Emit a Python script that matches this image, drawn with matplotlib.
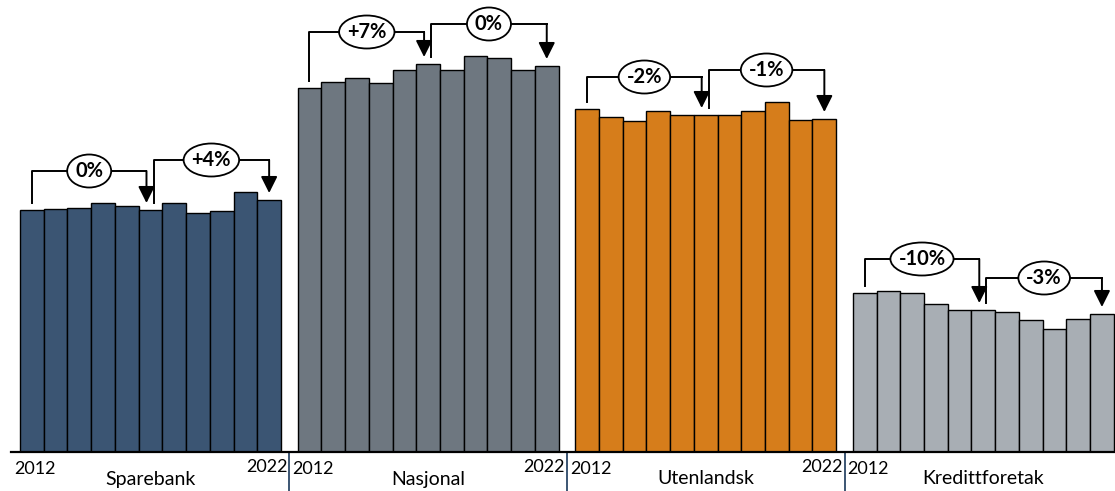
import matplotlib
matplotlib.use("Agg")
import matplotlib.pyplot as plt
from matplotlib.patches import Ellipse

plt.rcParams['font.family'] = ['Lato', 'DejaVu Sans']

years = list(range(2012, 2023))
groups = ["Sparebank", "Nasjonal", "Utenlandsk", "Kredittforetak"]

sparebank = [242, 243, 244, 249, 246, 242, 249, 239, 241, 260, 252]
nasjonal = [364, 370, 374, 369, 382, 388, 382, 396, 394, 382, 386]
utenlandsk = [343, 335, 331, 341, 337, 337, 337, 341, 350, 332, 333]
kredittforetak = [159, 161, 159, 148, 142, 142, 140, 132, 123, 133, 138]

change_first = ["0%", "+7%", "-2%", "-10%"]    # 2012 -> 2017
change_second = ["+4%", "0%", "-1%", "-3%"]    # 2017 -> 2022

series = [sparebank, nasjonal, utenlandsk, kredittforetak]
colors = ["#3b5573", "#6e7780", "#d67d1b", "#a8aeb4"]

fig = plt.figure(figsize=(11.15, 4.91), dpi=100)
ax = fig.add_axes([11 / 1115, 39 / 491, 1 - 11 / 1115, 1 - 39 / 491])

period = 11.7
n = len(years)
for g, vals in enumerate(series):
    xs = [g * period + i for i in range(n)]
    ax.bar(xs, vals, width=1.0, color=colors[g], edgecolor="black", linewidth=1.0)

ax.set_xlim(-0.88, 3 * period + 10.5 + 0.05)
ax.set_ylim(0, 452)
for s in ["top", "right", "left"]:
    ax.spines[s].set_visible(False)
ax.spines["bottom"].set_linewidth(1.6)
ax.set_xticks([])
ax.set_yticks([])

gap = 7
rise = 32
lw = 1.4

# pixel -> data conversion (axes spans full width/height in pixels)
px_x = (ax.get_xlim()[1] - ax.get_xlim()[0]) / (1115 * (1 - 11 / 1115))
px_y = 1.0

fig.canvas.draw()
renderer = fig.canvas.get_renderer()

arrow_kw = dict(arrowstyle="-|>,head_length=1.0,head_width=0.5",
                mutation_scale=10, lw=lw, color="black", shrinkA=0, shrinkB=0)


def bracket(xa, xb, ya, yb, top, label):
    level = top + rise
    ax.plot([xa, xa, xb], [ya + gap, level, level], color="black", lw=lw, zorder=3)
    ax.annotate("", xy=(xb, yb + gap), xytext=(xb, level), arrowprops=arrow_kw,
                zorder=3)
    mx = (xa + xb) / 2
    t = ax.text(mx, level, label, ha="center", va="center", fontsize=14.5,
                fontweight="bold", zorder=6)
    bb = t.get_window_extent(renderer=renderer)
    w = (bb.width + 16) * px_x
    h = 33 * px_y
    ax.add_patch(Ellipse((mx, level), w, h, fc="white", ec="black", lw=1.3, zorder=5))


for g, vals in enumerate(series):
    base = g * period
    bracket(base, base + 5 - 0.17, vals[0], vals[5], max(vals[0:6]), change_first[g])
    bracket(base + 5 + 0.13, base + 10, vals[5], vals[10], max(vals[5:11]),
            change_second[g])

    sep_left = base - 0.5 - 0.35
    sep_right = base + 10.5 + 0.35
    ax.text(sep_left + 0.12, -17, str(years[0]), ha="left", va="center", fontsize=13,
            clip_on=False)
    if g < 3:
        ax.text(sep_right - 0.08, -15, str(years[-1]), ha="right", va="center",
                fontsize=13, clip_on=False)
        ax.plot([sep_right, sep_right], [0, -40], color="#3b5573", lw=1.4, clip_on=False)
    ax.text(base + 5, -27, groups[g], ha="center", va="center", fontsize=14,
            clip_on=False)

fig.savefig("out.png", dpi=100)
